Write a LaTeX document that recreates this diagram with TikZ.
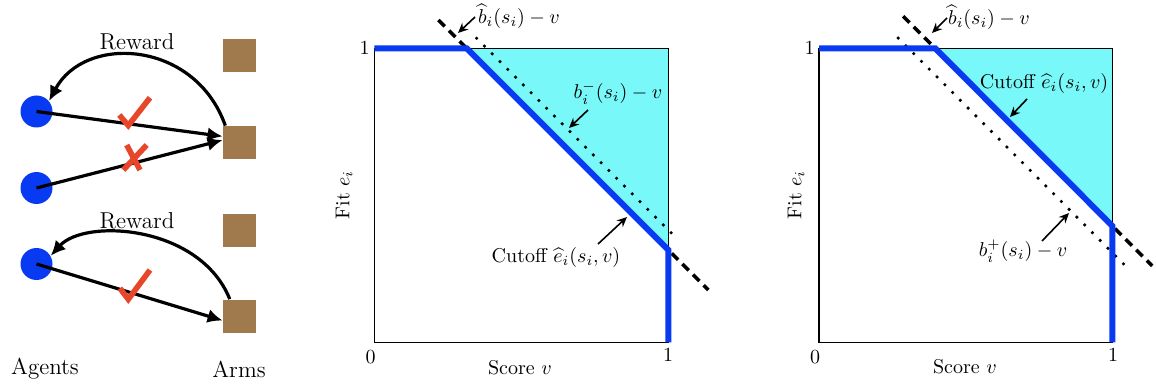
\documentclass[tikz,border=0pt]{standalone}
\usetikzlibrary{arrows.meta,calc}
\definecolor{agentblue}{RGB}{8,58,242}
\definecolor{armbrown}{RGB}{160,122,76}
\definecolor{markred}{RGB}{232,70,42}
\definecolor{regioncyan}{RGB}{120,248,248}
\tikzset{
 agent/.style={circle, fill=agentblue, minimum size=16pt, inner sep=0pt},
 arm/.style={rectangle, fill=armbrown, minimum size=16.5pt, inner sep=0pt},
 bigarrow/.style={-{Latex[length=7.5pt,width=7pt]}, line width=1.6pt},
 markline/.style={draw=markred, line width=2.8pt},
 leftlbl/.style={font=\fontsize{11.5}{13}\selectfont, inner sep=0pt},
 plbl/.style={font=\fontsize{10}{12}\selectfont, inner sep=0pt},
 cutline/.style={draw=agentblue, line width=3pt},
 dashline/.style={line width=1.8pt, dash pattern=on 4.5pt off 3pt},
 dotline/.style={line width=1.8pt, dash pattern=on 0pt off 5.5pt, line cap=round},
 ptr/.style={-{Stealth[length=5pt,width=4.5pt]}, line width=0.8pt},
 boxline/.style={line width=0.7pt},
}
\begin{document}
\begin{tikzpicture}[x=0.5pt,y=-0.5pt]
\useasboundingbox (0,0) rectangle (1156,390);

% ---------------- left panel ----------------
\node[agent] (a1) at (36.5,111.5) {};
\node[agent] (a2) at (36.5,188) {};
\node[agent] (a3) at (36.5,264) {};
\node[arm] (s1) at (239.5,56) {};
\node[arm] (s2) at (239.5,142.5) {};
\node[arm] (s3) at (239.5,230) {};
\node[arm] (s4) at (239.5,316) {};

\draw[bigarrow] (a1.center) -- (s2.160);
\draw[bigarrow] (a2.center) -- (s2.172);
\draw[bigarrow] (a3.center) -- (s4.195);
\draw[bigarrow] (s2.130) .. controls (195,40) and (85,34) .. (a1.40);
\draw[bigarrow] (s4.120) .. controls (200,225) and (85,218) .. (a3.30);

\node[leftlbl] (r1) at (137,42) {Reward};
\node[leftlbl] (r2) at (137,221) {Reward};
\node[leftlbl] (agents) at (45,369) {Agents};
\node[leftlbl] (arms) at (239,369) {Arms};

\draw[markline] (119.3,115) -- (128.3,125.5) -- (150,97.7);
\draw[markline] (120,288.3) -- (128.3,299.3) -- (150,270);
\draw[markline] (126.7,145) -- (140,170);
\draw[markline] (146.7,145) -- (123.3,170);

% ---------------- middle panel ----------------
\begin{scope}[shift={(187.15pt,-171.15pt)}, x=147pt, y=147pt]
\fill[regioncyan] (0.314,1) -- (1,1) -- (1,0.314) -- cycle;
\draw[boxline] (0,0) rectangle (1,1);
\draw[dashline] (0.218,1.096) -- (1.136,0.178);
\draw[dotline] (0.348,1.034) -- (1.034,0.348);
\draw[cutline] (0,1) -- (0.314,1) -- (1,0.314) -- (1,0);
\end{scope}
\node[plbl, anchor=east] (m-one-y) at (370,48) {1};
\node[plbl] (m-zero) at (370.5,357) {0};
\node[plbl] (m-one-x) at (668,355) {1};
\node[plbl] (m-score) at (520,368) {Score $v$};
\node[plbl, rotate=90] (m-fit) at (344,195) {Fit $e_i$};

\node[plbl] (m-bhat) at (519,16) {$\widehat{b}_i(s_i)-v$};
\coordinate (m-bhat-tail) at (475,17);
\coordinate (m-bhat-tip) at (458,33);
\draw[ptr] (m-bhat-tail) -- (m-bhat-tip);

\node[plbl] (m-bminus) at (618,93) {$b_i^-(s_i)-v$};
\coordinate (m-bminus-tail) at (588,110);
\coordinate (m-bminus-tip) at (569,128);
\draw[ptr] (m-bminus-tail) -- (m-bminus-tip);

\node[plbl] (m-cut) at (556,257) {Cutoff $\widehat{e}_i(s_i,v)$};
\coordinate (m-cut-tail) at (598,244);
\coordinate (m-cut-tip) at (627,217);
\draw[ptr] (m-cut-tail) -- (m-cut-tip);

% ---------------- right panel ----------------
\begin{scope}[shift={(409.5pt,-171.15pt)}, x=146.65pt, y=147pt]
\fill[regioncyan] (0.396,1) -- (1,1) -- (1,0.396) -- cycle;
\draw[boxline] (0,0) rectangle (1,1);
\draw[dashline] (0.287,1.109) -- (1.136,0.26);
\draw[dotline] (0.27,1.035) -- (1.06,0.245);
\draw[cutline] (0,1) -- (0.396,1) -- (1,0.396) -- (1,0);
\end{scope}
\node[plbl, anchor=east] (r-one-y) at (815,48) {1};
\node[plbl] (r-zero) at (815,357) {0};
\node[plbl] (r-one-x) at (1113,355) {1};
\node[plbl] (r-score) at (965,367) {Score $v$};
\node[plbl, rotate=90] (r-fit) at (796,195) {Fit $e_i$};

\node[plbl] (r-bhat) at (989,17) {$\widehat{b}_i(s_i)-v$};
\coordinate (r-bhat-tail) at (947,18);
\coordinate (r-bhat-tip) at (932,33);
\draw[ptr] (r-bhat-tail) -- (r-bhat-tip);

\node[plbl] (r-cut) at (1044,84) {Cutoff $\widehat{e}_i(s_i,v)$};
\coordinate (r-cut-tail) at (1027,99);
\coordinate (r-cut-tip) at (1010,117);
\draw[ptr] (r-cut-tail) -- (r-cut-tip);

\node[plbl] (r-bplus) at (1023,251) {$b_i^+(s_i)-v$};
\coordinate (r-bplus-tail) at (1042,241);
\coordinate (r-bplus-tip) at (1069,213);
\draw[ptr] (r-bplus-tail) -- (r-bplus-tip);
\end{tikzpicture}
\end{document}
